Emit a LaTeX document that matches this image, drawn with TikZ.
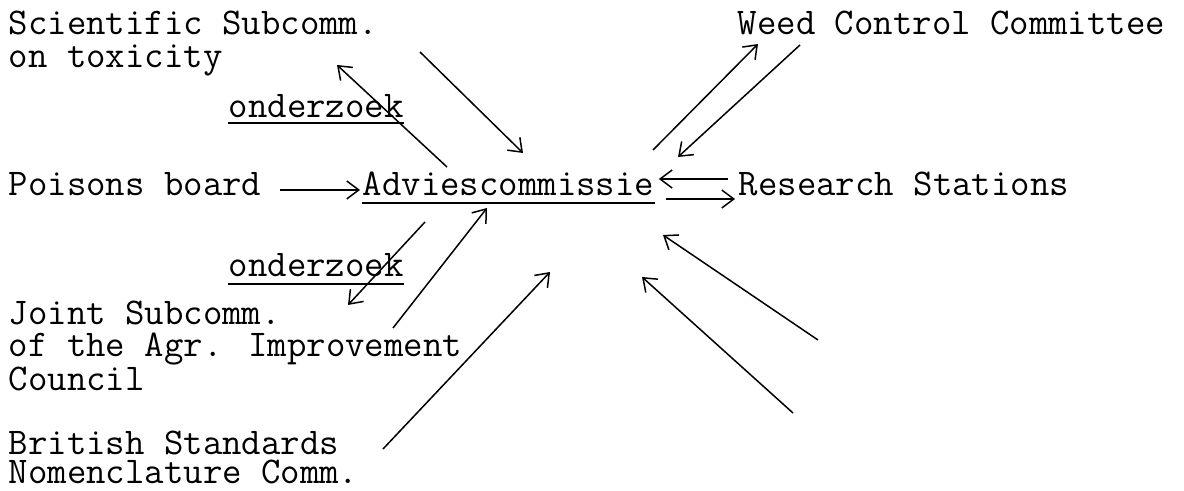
\documentclass[tikz,border=0pt]{standalone}
\usepackage{fontspec}
\usepackage{tikz}
\usetikzlibrary{arrows.meta}

\begin{document}
\begin{tikzpicture}[x=.5pt,y=-.5pt,every path/.style={line width=.75pt}]
  \tikzstyle{txt} = [inner sep=0pt,anchor=base west,align=left,font=\fontsize{18.86pt}{16pt}\selectfont\ttfamily];
  \tikzstyle{arr} = [-{Straight Barb[length=6pt,width=9pt]}];
  \tikzstyle{uline} = [line width=1.4pt];
  \useasboundingbox (0,0) rectangle (1184,491);
  \node[txt,font=\fontsize{18.86pt}{16.5pt}\selectfont\ttfamily] (sci) at (8,68) {Scientific Subcomm.\\on toxicity};
  \node[txt] (weed) at (737,35) {Weed Control Committee};
  \node[txt] (ondA) at (228,118) {onderzoek};
  \node[txt] (poisons) at (8,196) {Poisons board};
  \node[txt] (advies) at (362,196) {Adviescommissie};
  \node[txt] (research) at (738,196) {Research Stations};
  \node[txt] (ondB) at (228,277) {onderzoek};
  \node[txt] (joint) at (8,391) {Joint Subcomm.\\of the Agr. Improvement\\Council};
  \node[txt,font=\fontsize{18.86pt}{14.5pt}\selectfont\ttfamily] (british) at (8,484) {British Standards\\Nomenclature Comm.};
  \draw[uline] ([yshift=-2.5pt]ondA.base west) -- ([yshift=-2.5pt]ondA.base east);
  \draw[uline] ([yshift=-3.5pt]advies.base west) -- ([yshift=-3.5pt]advies.base east);
  \draw[uline] ([yshift=-3.5pt]ondB.base west) -- ([yshift=-3.5pt]ondB.base east);
  \coordinate (sciTip) at (337,65);
  \coordinate (sciFoot) at (447,167);
  \coordinate (sciTail) at (420,52);
  \coordinate (sciHead) at (523,153);
  \coordinate (weedFoot) at (653,150);
  \coordinate (weedTip) at (758,44);
  \coordinate (weedTail) at (800,45);
  \coordinate (weedHead) at (678,157);
  \coordinate (jointFoot) at (425,222);
  \coordinate (jointTip) at (348,305);
  \coordinate (jointTail) at (393,328);
  \coordinate (jointHead) at (487,208);
  \coordinate (britTail) at (383,449);
  \coordinate (britHead) at (550,272);
  \coordinate (eastTailA) at (818,340);
  \coordinate (eastHeadA) at (663,235);
  \coordinate (eastTailB) at (793,413);
  \coordinate (eastHeadB) at (642,277);
  \draw[arr] ([xshift=9pt,yshift=3pt]poisons.base east) -- ([xshift=-1pt,yshift=3pt]advies.base west);
  \draw[arr] ([xshift=-5pt,yshift=8.5pt]research.base west) -- ([xshift=2pt,yshift=8.5pt]advies.base east);
  \draw[arr] ([xshift=5.5pt,yshift=-1.5pt]advies.base east) -- ([xshift=-1.5pt,yshift=-1.5pt]research.base west);
  \draw[arr] (sciFoot) -- (sciTip);
  \draw[arr] (sciTail) -- (sciHead);
  \draw[arr] (weedFoot) -- (weedTip);
  \draw[arr] (weedTail) -- (weedHead);
  \draw[arr] (jointFoot) -- (jointTip);
  \draw[arr] (jointTail) -- (jointHead);
  \draw[arr] (britTail) -- (britHead);
  \draw[arr] (eastTailA) -- (eastHeadA);
  \draw[arr] (eastTailB) -- (eastHeadB);
\end{tikzpicture}
\end{document}
